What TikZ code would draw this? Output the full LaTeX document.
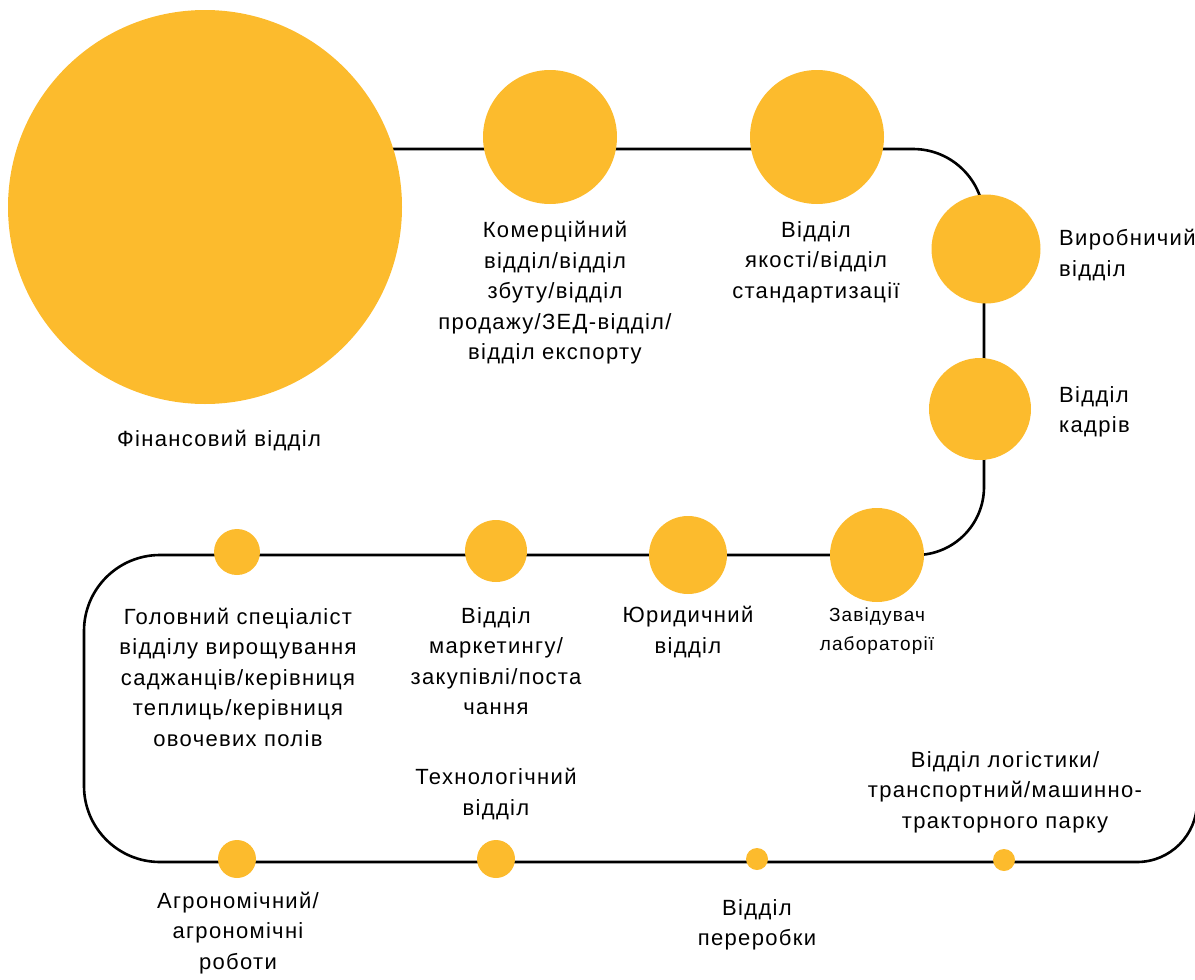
\documentclass[tikz,border=0pt]{standalone}
\usepackage{fontspec}
\setmainfont{Liberation Sans}[LetterSpace=6]
\definecolor{dotfill}{RGB}{252,187,45}
\tikzset{
  x=1pt, y=-1pt,
  dot/.style={circle, fill=dotfill, draw=none, inner sep=0pt},
  conn/.style={line width=2.6pt, black},
  lbl/.style={align=center, inner sep=0pt, font=\fontsize{22}{30.5}\selectfont},
  lbll/.style={align=left, anchor=west, inner sep=0pt, font=\fontsize{22}{30.5}\selectfont},
  lbls/.style={align=center, inner sep=0pt, font=\fontsize{19}{29}\selectfont},
}
\begin{document}
\begin{tikzpicture}
\useasboundingbox (0,0) rectangle (1195,980);
\clip (0,0) rectangle (1195,980);

% the route linking all departments
\draw[conn] (205,149) -- (913,149) arc[start angle=-90, end angle=0, radius=71]
  -- (984,487) arc[start angle=0, end angle=90, radius=68]
  -- (160,555) arc[start angle=-90, end angle=-180, radius=76]
  -- (84,786) arc[start angle=180, end angle=90, radius=76]
  -- (1137,862) arc[start angle=90, end angle=0, radius=60]
  -- (1197,700);

% departments
\node[dot, minimum size=394pt] (fin) at (205,207) {};
\node[dot, minimum size=134pt] (kom) at (550,137) {};
\node[dot, minimum size=134pt] (yak) at (817,137) {};
\node[dot, minimum size=109pt] (vyr) at (986,249) {};
\node[dot, minimum size=102pt] (kad) at (980,409) {};
\node[dot, minimum size=94pt]  (lab) at (877,555) {};
\node[dot, minimum size=78pt]  (yur) at (688,555) {};
\node[dot, minimum size=62pt]  (mar) at (496,551) {};
\node[dot, minimum size=46pt]  (hol) at (237,552) {};
\node[dot, minimum size=38pt]  (agr) at (237,859) {};
\node[dot, minimum size=38pt]  (teh) at (496,859) {};
\node[dot, minimum size=22pt]  (per) at (757,859) {};
\node[dot, minimum size=22pt]  (log) at (1004,860) {};

% labels
\node[lbl] (tfin) at (219,441) {Фінансовий відділ};
\node[lbl] (tkom) at (555,293) {Комерційний\\відділ/відділ\\збуту/відділ\\продажу/ЗЕД-відділ/\\відділ експорту};
\node[lbl] (tyak) at (816,262) {Відділ\\якості/відділ\\стандартизації};
\node[lbll] (tvyr) at (1059,255) {Виробничий\\відділ};
\node[lbll] (tkad) at (1059,412) {Відділ\\кадрів};
\node[lbls] (tlab) at (877,631) {Завідувач\\лабораторії};
\node[lbl] (tyur) at (688,632) {Юридичний\\відділ};
\node[lbl] (tmar) at (496,661) {Відділ\\маркетингу/\\закупівлі/поста\\чання};
\node[lbl] (thol) at (238,677) {Головний спеціаліст\\відділу вирощування\\саджанців/керівниця\\теплиць/керівниця\\овочевих полів};
\node[lbl] (tteh) at (496,794) {Технологічний\\відділ};
\node[lbl] (tlog) at (1005,792) {Відділ логістики/\\транспортний/машинно-\\тракторного парку};
\node[lbl] (tagr) at (238,933) {Агрономічний/\\агрономічні\\роботи};
\node[lbl] (tper) at (757,925) {Відділ\\переробки};
\end{tikzpicture}
\end{document}
